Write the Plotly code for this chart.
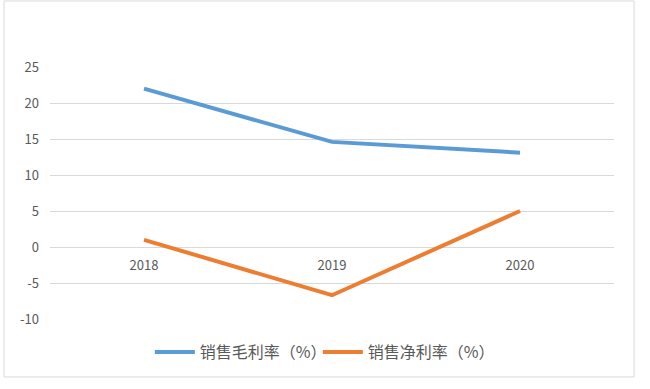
import plotly.graph_objects as go

years = ["2018", "2019", "2020"]
gross_margin = [22.0, 14.6, 13.1]
net_margin = [1.0, -6.7, 5.0]
series_names = ["销售毛利率（%）", "销售净利率（%）"]
y_ticks = [-10, -5, 0, 5, 10, 15, 20, 25]
y_tick_text = ["-10", "-5", "0", "5", "10", "15", "20", "25"]

FONT = "Noto Sans CJK SC, Noto Sans, sans-serif"

fig = go.Figure()
fig.add_trace(go.Scatter(x=years, y=gross_margin, mode="lines", name=series_names[0],
                         line=dict(color="#5B9BD5", width=4)))
fig.add_trace(go.Scatter(x=years, y=net_margin, mode="lines", name=series_names[1],
                         line=dict(color="#ED7D31", width=4)))

ymin, ymax = -10, 25
fig.update_layout(
    width=650, height=389,
    margin=dict(l=50, r=36, t=67, b=70, autoexpand=False),
    paper_bgcolor="white", plot_bgcolor="white",
    font=dict(family=FONT, color="#595959", size=13),
    showlegend=True,
    legend=dict(orientation="h", x=0.177, xanchor="left", y=-0.131, yanchor="middle",
                font=dict(size=16, color="#595959"), itemwidth=40, tracegroupgap=0,
                entrywidth=113, entrywidthmode="pixels"),
    xaxis=dict(type="category", range=[-0.5, 2.5], showgrid=False, showline=False,
               ticks="", anchor="free", position=(0 - ymin) / (ymax - ymin),
               ticklabelstandoff=9, fixedrange=True, automargin=False),
    yaxis=dict(range=[ymin, ymax], tickvals=y_ticks, ticktext=y_tick_text,
               showgrid=True, gridcolor="#d9d9d9",
               gridwidth=1, zeroline=False, showline=False, ticks="",
               ticklabelstandoff=10, automargin=False),
)
fig.add_shape(type="rect", xref="paper", yref="paper",
              x0=-0.0816, x1=1.0355, y0=-0.230, y1=1.262,
              line=dict(color="#d9d9d9", width=1), fillcolor="rgba(0,0,0,0)", layer="below")

fig.write_html("out.html", config={"displayModeBar": False},
               post_script="document.body.style.margin='0';")
